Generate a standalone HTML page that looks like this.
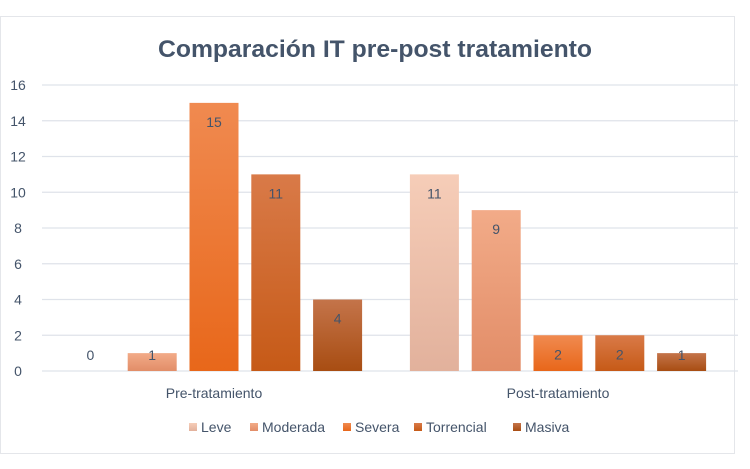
<!DOCTYPE html>
<html><head><meta charset="utf-8"><style>
html,body{margin:0;padding:0;background:#fff;}
svg{display:block;font-family:"Liberation Sans",sans-serif;}
</style></head><body>
<svg id="chart" width="750" height="469" viewBox="0 0 750 469" xmlns="http://www.w3.org/2000/svg">
<defs>
<linearGradient id="g0" x1="0" y1="0" x2="0" y2="1"><stop offset="0" stop-color="#f6cdb8"/><stop offset="1" stop-color="#e2b19c"/></linearGradient>
<linearGradient id="g1" x1="0" y1="0" x2="0" y2="1"><stop offset="0" stop-color="#f2ab88"/><stop offset="1" stop-color="#e28d68"/></linearGradient>
<linearGradient id="g2" x1="0" y1="0" x2="0" y2="1"><stop offset="0" stop-color="#f08a50"/><stop offset="1" stop-color="#e8671a"/></linearGradient>
<linearGradient id="g3" x1="0" y1="0" x2="0" y2="1"><stop offset="0" stop-color="#d97a48"/><stop offset="1" stop-color="#c65a17"/></linearGradient>
<linearGradient id="g4" x1="0" y1="0" x2="0" y2="1"><stop offset="0" stop-color="#c4744a"/><stop offset="1" stop-color="#a84d12"/></linearGradient>
</defs>
<rect x="0.5" y="16.5" width="734" height="437" fill="#fff" stroke="#e4e6ea"/>
<text x="375" y="57" text-anchor="middle" font-size="24" font-weight="bold" fill="#44546a" textLength="434" lengthAdjust="spacingAndGlyphs">Comparación IT pre-post tratamiento</text>
<g id="grid"></g><g id="bars"></g><g id="labels"></g><g id="legend"></g>
</svg>
<script>
const categories = ["Pre-tratamiento", "Post-tratamiento"];
const seriesNames = ["Leve", "Moderada", "Severa", "Torrencial", "Masiva"];
const leve = [0, 11];
const moderada = [1, 9];
const severa = [15, 2];
const torrencial = [11, 2];
const masiva = [4, 1];
const yTicks = [0, 2, 4, 6, 8, 10, 12, 14, 16];
const series = [leve, moderada, severa, torrencial, masiva];
const NS = "http://www.w3.org/2000/svg";
const plotL = 42, plotR = 730, y0 = 371, yTop = 85, yMax = 16;
const y = v => y0 - (v / yMax) * (y0 - yTop);
const catW = (plotR - plotL) / categories.length;
const barW = 49, step = 61.8;
const x = (ci, si) => plotL + catW * ci + catW / 2 + (si - 2) * step - barW / 2;
function mk(tag, attrs, parent) { const e = document.createElementNS(NS, tag); for (const k in attrs) e.setAttribute(k, attrs[k]); parent.appendChild(e); return e; }
const grid = document.getElementById('grid'), bars = document.getElementById('bars'), labels = document.getElementById('labels'), legend = document.getElementById('legend');
yTicks.forEach(t => {
  const l = mk('line', {x1: plotL, x2: plotR + 8, y1: y(t), y2: y(t), stroke: '#dfe3ea', 'stroke-width': 1.3}, grid);
  
  
  const tx = mk('text', {x: 18, y: y(t) + 5, 'text-anchor': 'middle', 'font-size': 14, fill: '#44546a'}, grid);
  tx.textContent = t;
  
  
});
categories.forEach((c, ci) => {
  const tx = mk('text', {x: plotL + catW * ci + catW / 2, y: 398, 'text-anchor': 'middle', 'font-size': 14, fill: '#44546a'}, labels);
  tx.textContent = c;
  
  
  series.forEach((s, si) => {
    const v = s[ci];
    if (v > 0) {
      const r = mk('rect', {x: x(ci, si), y: y(v), width: barW, height: y0 - y(v), fill: 'url(#g' + si + ')'}, bars);
      
      
    }
    const ly = Math.min(y(v) + 24, y0 - 11);
    const lt = mk('text', {x: x(ci, si) + barW / 2, y: ly, 'text-anchor': 'middle', 'font-size': 14, fill: '#44546a'}, labels);
    lt.textContent = v;
    
    
  });
});
const legX = [189, 250, 343, 414, 513];
seriesNames.forEach((n, i) => {
  const sw = mk('rect', {x: legX[i], y: 423, width: 8, height: 8, fill: 'url(#g' + i + ')'}, legend);
  
  
  const t = mk('text', {x: legX[i] + 12, y: 432, 'font-size': 14, fill: '#44546a'}, legend);
  t.textContent = n;
  
  
});
</script>
</body></html>
